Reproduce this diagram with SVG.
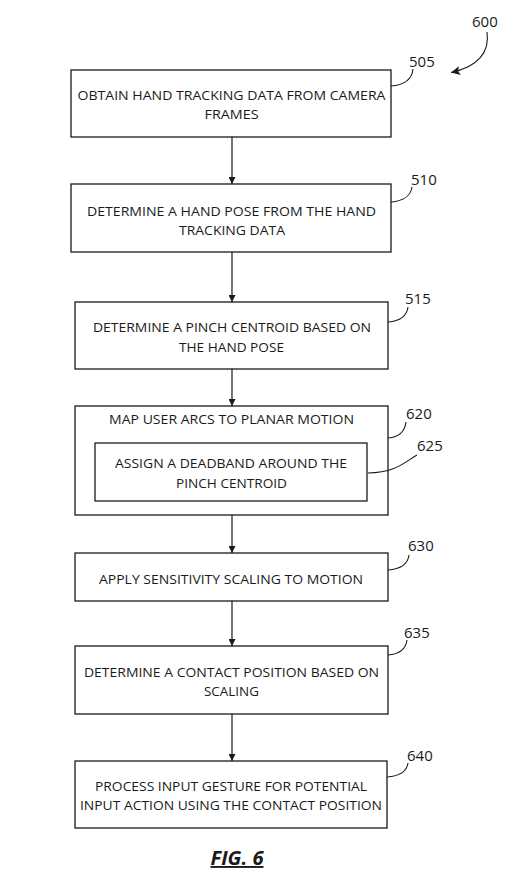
<svg xmlns="http://www.w3.org/2000/svg" width="524" height="892" viewBox="0 0 524 892">
<defs>
<style>
.box{fill:#fff;stroke:#1a1a1a;stroke-width:1.3}
.t{font-family:"Open Sans","Noto Sans",sans-serif;font-size:13.5px;fill:#1a1a1a;text-anchor:middle}
.lbl{font-family:"Open Sans","Noto Sans",sans-serif;font-size:15px;fill:#1a1a1a}
.ld{fill:none;stroke:#1a1a1a;stroke-width:1.1}
.cn{fill:none;stroke:#1a1a1a;stroke-width:1.2}
.fig{font-family:"Open Sans","Noto Sans",sans-serif;font-size:19px;font-weight:bold;font-style:italic;fill:#1a1a1a;text-anchor:middle;text-decoration:underline}
</style>
<marker id="ah" viewBox="0 0 10 10" refX="10" refY="5" markerWidth="7" markerHeight="7" markerUnits="userSpaceOnUse" orient="auto">
<path d="M0,0 L10,5 L0,10 Z" fill="#1a1a1a"/>
</marker>
<marker id="ah2" viewBox="0 0 10 10" refX="10" refY="5" markerWidth="12" markerHeight="9" markerUnits="userSpaceOnUse" orient="auto">
<path d="M0,0 L10,5 L0,10 L2,5 Z" fill="#1a1a1a"/>
</marker>
</defs>
<rect width="524" height="892" fill="#fff"/>

<g id="ref600">
<text class="lbl" x="472" y="26.5">600</text>
<path class="ld" d="M487,32 C490,52 478,67 451,72.5" marker-end="url(#ah2)"/>
</g>

<g id="node505">
<rect class="box" x="71" y="70" width="320" height="67"/>
<text class="t" x="231.5" y="100" textLength="308" lengthAdjust="spacingAndGlyphs">OBTAIN HAND TRACKING DATA FROM CAMERA</text>
<text class="t" x="231.5" y="119" textLength="54" lengthAdjust="spacingAndGlyphs">FRAMES</text>
<text class="lbl" x="409" y="66.5">505</text>
<path class="ld" d="M391,86 C405,85 412,79 413,69"/>
</g>

<g id="node510">
<rect class="box" x="71" y="184" width="320" height="68"/>
<text class="t" x="231.5" y="215.5" textLength="289" lengthAdjust="spacingAndGlyphs">DETERMINE A HAND POSE FROM THE HAND</text>
<text class="t" x="232" y="234.5" textLength="106" lengthAdjust="spacingAndGlyphs">TRACKING DATA</text>
<text class="lbl" x="411" y="185">510</text>
<path class="ld" d="M391,202 C404,201 411,195 412,187"/>
</g>

<g id="node515">
<rect class="box" x="75" y="302" width="313" height="67"/>
<text class="t" x="232" y="332" textLength="278" lengthAdjust="spacingAndGlyphs">DETERMINE A PINCH CENTROID BASED ON</text>
<text class="t" x="231.5" y="351.5" textLength="105" lengthAdjust="spacingAndGlyphs">THE HAND POSE</text>
<text class="lbl" x="405" y="304">515</text>
<path class="ld" d="M388,322 C401,321 407,315 408,307"/>
</g>

<g id="node620">
<rect class="box" x="75" y="406" width="313" height="109"/>
<text class="t" x="231.5" y="424" textLength="245" lengthAdjust="spacingAndGlyphs">MAP USER ARCS TO PLANAR MOTION</text>
<text class="lbl" x="406" y="419">620</text>
<path class="ld" d="M388,438 C399,437 405,431 406,422"/>
</g>

<g id="node625">
<rect class="box" x="95" y="443" width="272" height="58"/>
<text class="t" x="231" y="468" textLength="232" lengthAdjust="spacingAndGlyphs">ASSIGN A DEADBAND AROUND THE</text>
<text class="t" x="231.5" y="487.5" textLength="111" lengthAdjust="spacingAndGlyphs">PINCH CENTROID</text>
<text class="lbl" x="417" y="451">625</text>
<path class="ld" d="M368,473 C395,473 405,462 417,455"/>
</g>

<g id="node630">
<rect class="box" x="75" y="553" width="313" height="48"/>
<text class="t" x="231" y="584" textLength="264" lengthAdjust="spacingAndGlyphs">APPLY SENSITIVITY SCALING TO MOTION</text>
<text class="lbl" x="408" y="551">630</text>
<path class="ld" d="M388,570 C402,569 408,563 409,555"/>
</g>

<g id="node635">
<rect class="box" x="75" y="646" width="313" height="68"/>
<text class="t" x="231.5" y="676.5" textLength="295" lengthAdjust="spacingAndGlyphs">DETERMINE A CONTACT POSITION BASED ON</text>
<text class="t" x="231.5" y="696" textLength="55" lengthAdjust="spacingAndGlyphs">SCALING</text>
<text class="lbl" x="404" y="638">635</text>
<path class="ld" d="M388,655 C401,654 406,648 407,640"/>
</g>

<g id="node640">
<rect class="box" x="75" y="761" width="312" height="67"/>
<text class="t" x="231" y="790.5" textLength="272" lengthAdjust="spacingAndGlyphs">PROCESS INPUT GESTURE FOR POTENTIAL</text>
<text class="t" x="231" y="810" textLength="302" lengthAdjust="spacingAndGlyphs">INPUT ACTION USING THE CONTACT POSITION</text>
<text class="lbl" x="407" y="760.5">640</text>
<path class="ld" d="M387,777 C401,776 407,770 408,763"/>
</g>

<g id="connectors">
<path class="cn" d="M232,137 L232,184" marker-end="url(#ah)"/>
<path class="cn" d="M232,252 L232,302" marker-end="url(#ah)"/>
<path class="cn" d="M232,369 L232,406" marker-end="url(#ah)"/>
<path class="cn" d="M232,515 L232,553" marker-end="url(#ah)"/>
<path class="cn" d="M232,601 L232,646" marker-end="url(#ah)"/>
<path class="cn" d="M232,714 L232,761" marker-end="url(#ah)"/>
</g>

<text class="fig" x="237" y="865" textLength="53" lengthAdjust="spacingAndGlyphs">FIG. 6</text>
</svg>
